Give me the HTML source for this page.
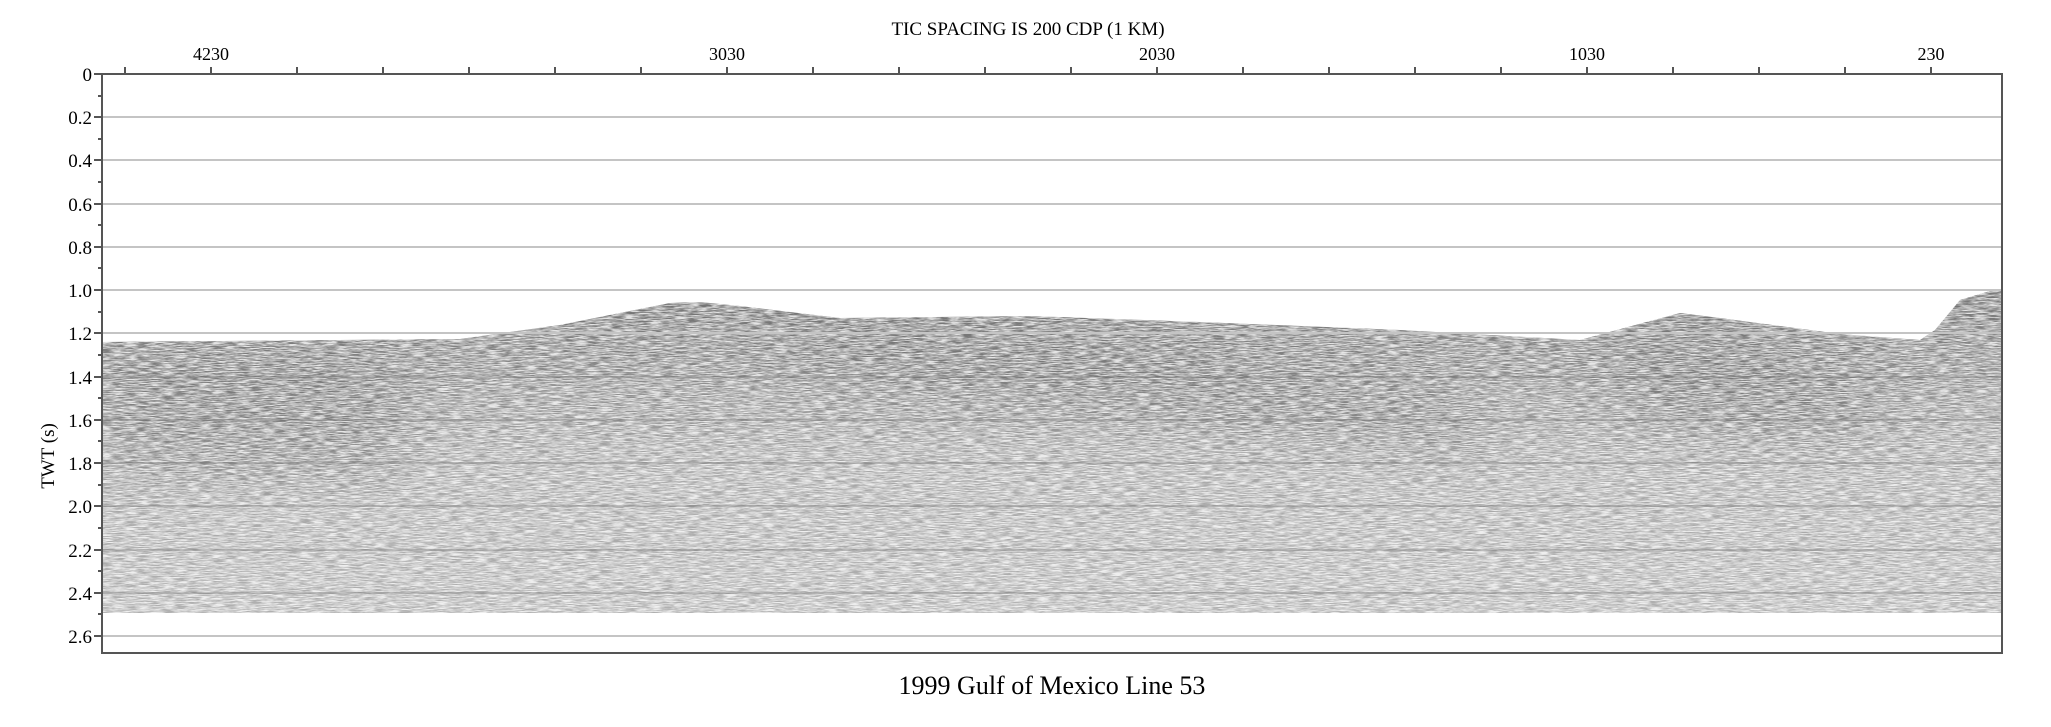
<!DOCTYPE html>
<html><head><meta charset="utf-8"><style>
html,body{margin:0;padding:0;background:#fff;}
svg{display:block;font-family:"Liberation Serif",serif;}
</style></head><body>
<svg width="2051" height="727" viewBox="0 0 2051 727" xmlns="http://www.w3.org/2000/svg">
<defs>
<filter id="n" x="0" y="0" width="100%" height="100%">
<feTurbulence type="fractalNoise" baseFrequency="0.08 1.2" numOctaves="3" seed="4"/>
<feColorMatrix type="matrix" values="0 0 0 0 1  0 0 0 0 1  0 0 0 0 1  0 0 0 -3 2.0"/>
</filter>
<filter id="b"><feGaussianBlur stdDeviation="25"/></filter>
<clipPath id="c"><polygon points="102,342 460,339 560,325 670,303 700,302 740,306 840,318 1030,316 1200,322 1400,330 1580,340 1680,313 1720,318 1840,334 1920,340 1935,330 1960,300 1990,291 2002,291 2002,613 102,613"/></clipPath>
<linearGradient id="g" x1="0" y1="0" x2="0" y2="1">
<stop offset="0" stop-color="#707070"/><stop offset="0.3" stop-color="#8c8c8c"/><stop offset="0.55" stop-color="#a6a6a6"/><stop offset="1" stop-color="#b0b0b0"/>
</linearGradient>
</defs>
<g clip-path="url(#c)">
<rect x="102" y="285" width="1900" height="330" fill="url(#g)"/>
<g filter="url(#b)" fill="#555" opacity="0.35">
<polygon points="450,345 680,310 900,380 1300,430 1500,460 1450,400 1100,350 700,320"/>
<polygon points="1600,360 1720,340 1900,400 1850,440 1650,420"/>
<rect x="102" y="360" width="300" height="120"/>
</g>
<rect x="102" y="285" width="1900" height="330" filter="url(#n)" opacity="0.8"/>
</g>
<g stroke="#c4c4c4" stroke-width="2">
<line x1="103" y1="117" x2="2002" y2="117"/><line x1="103" y1="160" x2="2002" y2="160"/>
<line x1="103" y1="204" x2="2002" y2="204"/><line x1="103" y1="247" x2="2002" y2="247"/>
<line x1="103" y1="290" x2="2002" y2="290"/><line x1="103" y1="333" x2="2002" y2="333"/>
<line x1="103" y1="377" x2="2002" y2="377" stroke="#666" opacity=".3"/><line x1="103" y1="420" x2="2002" y2="420" stroke="#666" opacity=".3"/>
<line x1="103" y1="463" x2="2002" y2="463" stroke="#666" opacity=".3"/><line x1="103" y1="506" x2="2002" y2="506" stroke="#666" opacity=".3"/>
<line x1="103" y1="550" x2="2002" y2="550" stroke="#666" opacity=".3"/><line x1="103" y1="593" x2="2002" y2="593" stroke="#666" opacity=".3"/>
<line x1="103" y1="636" x2="2002" y2="636"/>
</g>
<rect x="102" y="74" width="1900" height="579" fill="none" stroke="#555" stroke-width="2"/>
<g stroke="#555" stroke-width="2">
<line x1="125" y1="67" x2="125" y2="74"/><line x1="211" y1="67" x2="211" y2="74"/><line x1="297" y1="67" x2="297" y2="74"/><line x1="383" y1="67" x2="383" y2="74"/><line x1="469" y1="67" x2="469" y2="74"/><line x1="555" y1="67" x2="555" y2="74"/><line x1="641" y1="67" x2="641" y2="74"/><line x1="727" y1="67" x2="727" y2="74"/><line x1="813" y1="67" x2="813" y2="74"/><line x1="899" y1="67" x2="899" y2="74"/><line x1="985" y1="67" x2="985" y2="74"/><line x1="1071" y1="67" x2="1071" y2="74"/><line x1="1157" y1="67" x2="1157" y2="74"/><line x1="1243" y1="67" x2="1243" y2="74"/><line x1="1329" y1="67" x2="1329" y2="74"/><line x1="1415" y1="67" x2="1415" y2="74"/><line x1="1501" y1="67" x2="1501" y2="74"/><line x1="1587" y1="67" x2="1587" y2="74"/><line x1="1673" y1="67" x2="1673" y2="74"/><line x1="1759" y1="67" x2="1759" y2="74"/><line x1="1845" y1="67" x2="1845" y2="74"/><line x1="1931" y1="67" x2="1931" y2="74"/>
<line x1="94" y1="74" x2="102" y2="74"/><line x1="94" y1="117" x2="102" y2="117"/><line x1="94" y1="160" x2="102" y2="160"/><line x1="94" y1="204" x2="102" y2="204"/><line x1="94" y1="247" x2="102" y2="247"/><line x1="94" y1="290" x2="102" y2="290"/><line x1="94" y1="333" x2="102" y2="333"/><line x1="94" y1="377" x2="102" y2="377"/><line x1="94" y1="420" x2="102" y2="420"/><line x1="94" y1="463" x2="102" y2="463"/><line x1="94" y1="506" x2="102" y2="506"/><line x1="94" y1="550" x2="102" y2="550"/><line x1="94" y1="593" x2="102" y2="593"/><line x1="94" y1="636" x2="102" y2="636"/>
<line x1="98" y1="96" x2="102" y2="96"/><line x1="98" y1="139" x2="102" y2="139"/><line x1="98" y1="182" x2="102" y2="182"/><line x1="98" y1="225" x2="102" y2="225"/><line x1="98" y1="268" x2="102" y2="268"/><line x1="98" y1="312" x2="102" y2="312"/><line x1="98" y1="355" x2="102" y2="355"/><line x1="98" y1="398" x2="102" y2="398"/><line x1="98" y1="441" x2="102" y2="441"/><line x1="98" y1="485" x2="102" y2="485"/><line x1="98" y1="528" x2="102" y2="528"/><line x1="98" y1="571" x2="102" y2="571"/><line x1="98" y1="614" x2="102" y2="614"/>
</g>
<g font-size="18" text-anchor="middle" fill="#000">
<text x="1028" y="35" font-size="19">TIC SPACING IS 200 CDP (1 KM)</text>
<text x="211" y="60">4230</text><text x="727" y="60">3030</text><text x="1157" y="60">2030</text><text x="1587" y="60">1030</text><text x="1931" y="60">230</text>
</g>
<g font-size="19" text-anchor="end" fill="#000">
<text x="92" y="81">0</text><text x="92" y="124">0.2</text><text x="92" y="167">0.4</text><text x="92" y="211">0.6</text><text x="92" y="254">0.8</text><text x="92" y="297">1.0</text><text x="92" y="340">1.2</text><text x="92" y="384">1.4</text><text x="92" y="427">1.6</text><text x="92" y="470">1.8</text><text x="92" y="513">2.0</text><text x="92" y="557">2.2</text><text x="92" y="600">2.4</text><text x="92" y="643">2.6</text>
</g>
<text x="0" y="0" font-size="19" text-anchor="middle" transform="translate(54,456) rotate(-90)">TWT (s)</text>
<text x="1052" y="694" font-size="26" text-anchor="middle">1999 Gulf of Mexico Line 53</text>
</svg>
</body></html>
